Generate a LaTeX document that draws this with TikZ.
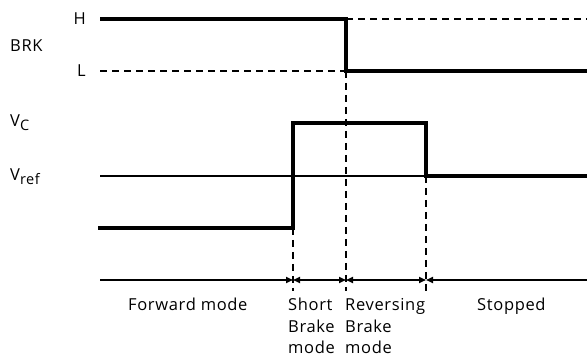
\documentclass[tikz,border=0pt]{standalone}
\usepackage{fontspec}
\setmainfont[LetterSpace=4]{Open Sans}
\usetikzlibrary{arrows.meta}
\begin{document}
\begin{tikzpicture}[x=1pt,y=-1pt,
  sig/.style={line width=3.6pt},
  thin/.style={line width=1.6pt},
  guide/.style={line width=1.4pt, dash pattern=on 7pt off 5pt},
  lab/.style={inner sep=0pt, font=\fontsize{16.5}{21}\selectfont},
  dim/.style={line width=1.6pt, {Triangle[length=7pt,width=6pt]}-{Triangle[length=7pt,width=6pt]}}
]
\useasboundingbox (0,0) rectangle (587,358);
% labels
\node[lab, anchor=base east] (H) at (86,25) {H};
\node[lab, anchor=base east] (L) at (86,77) {L};
\node[lab, anchor=base west] (brk) at (10,52) {BRK};
\node[lab, anchor=base west] (vc) at (10,127) {V\raisebox{-0.4ex}{\fontsize{14.5}{16}\selectfont C}};
\node[lab, anchor=base west] (vref) at (10,181) {V\raisebox{-0.4ex}{\fontsize{14.5}{16}\selectfont ref}};
% BRK signal
\draw[guide] (346,19) -- (587,19);
\draw[guide] (100,71) -- (346,71);
\draw[sig] (100,19) -- (346,19) -- (346,71) -- (587,71);
% Vref line
\draw[thin] (100,176) -- (426,176);
% Vc signal
\draw[sig] (98,228) -- (293,228) -- (293,123) -- (426,123) -- (426,176) -- (587,176);
% guides
\draw[guide] (293,228) -- (293,291);
\draw[guide] (346,71) -- (346,291);
\draw[guide] (426,176) -- (426,291);
% time axis
\draw[line width=1.6pt, -{Triangle[length=7pt,width=6pt]}] (100,280) -- (293,280);
\draw[dim] (293,280) -- (346,280);
\draw[dim] (346,280) -- (426,280);
\draw[line width=1.6pt, {Triangle[length=7pt,width=6pt]}-] (426,280) -- (587,280);
% mode labels
\node[lab, anchor=base west] (fw) at (128,311) {Forward mode};
\node[lab, anchor=base west] (sb1) at (288,311) {Short};
\node[lab, anchor=base west] (sb2) at (288,332.5) {Brake};
\node[lab, anchor=base west] (sb3) at (288,354) {mode};
\node[lab, anchor=base west] (rb1) at (345,311) {Reversing};
\node[lab, anchor=base west] (rb2) at (345,332.5) {Brake};
\node[lab, anchor=base west] (rb3) at (345,354) {mode};
\node[lab, anchor=base west] (st) at (477,311) {Stopped};
\end{tikzpicture}
\end{document}
